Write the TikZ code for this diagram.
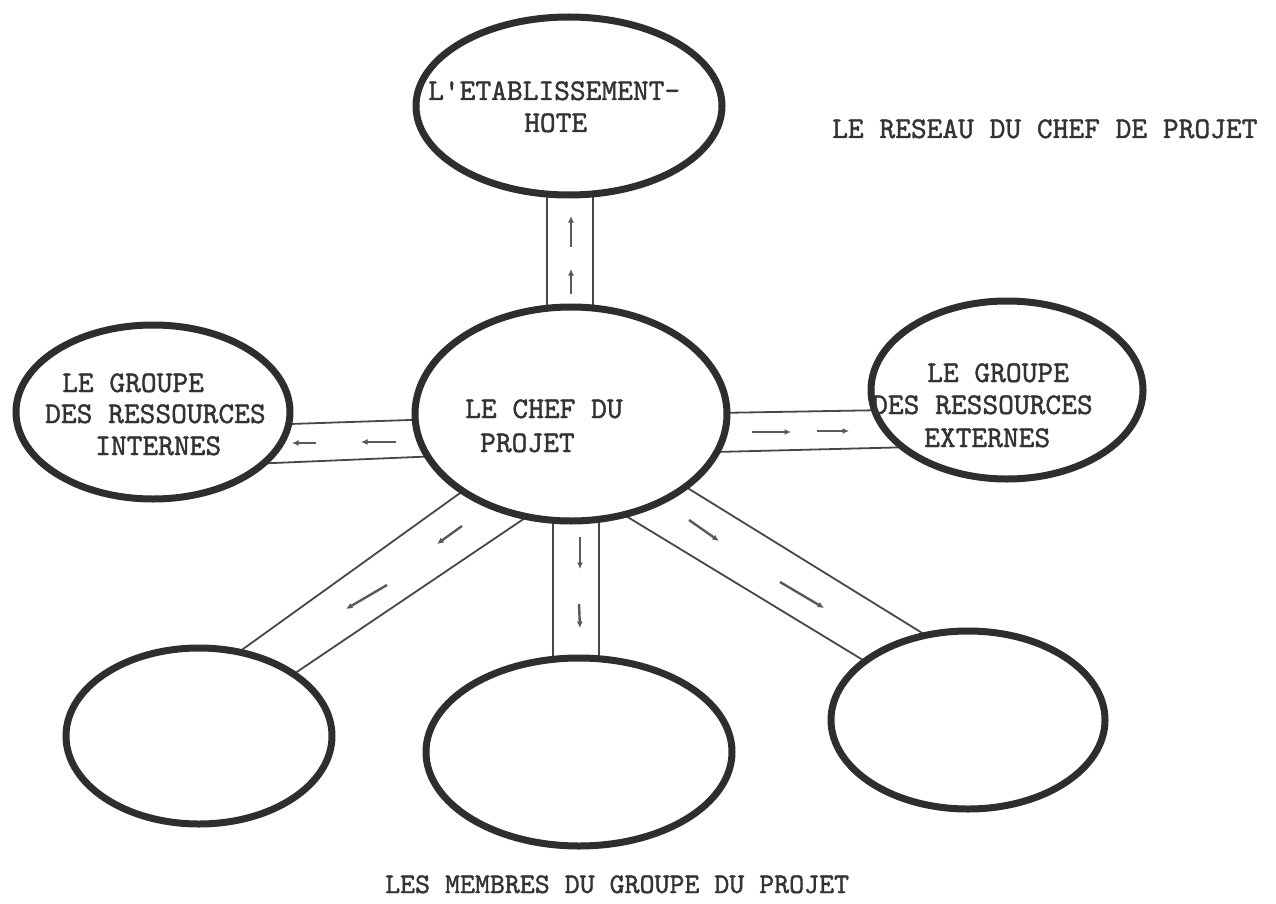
\documentclass[tikz,border=0pt]{standalone}
\usepackage{fontspec}
\newfontfamily\typewr{lmmono10-regular.otf}[FakeBold=1.3]
\usetikzlibrary{shapes.geometric,arrows.meta}
\pgfdeclarelayer{bg}
\pgfsetlayers{bg,main}
\begin{document}
\begin{tikzpicture}[x=1pt,y=-1pt,
  ell/.style={ellipse,draw=black!82,line width=7pt,fill=white,inner sep=0pt},
  road/.style={draw=black!72,line width=1.8pt},
  flow/.style={draw=black!65,line width=2.4pt,-{Latex[length=6.5pt,width=6pt]}},
  lbl/.style={font=\typewr\fontsize{30}{32}\selectfont,anchor=base west,inner sep=0pt,text=black!80}]
\useasboundingbox (0,0) rectangle (1276,904);

% ellipses
\node[ell,minimum width=306pt,minimum height=178pt] (top) at (569,106) {};
\node[ell,minimum width=312pt,minimum height=214pt] (ctr) at (571,414) {};
\node[ell,minimum width=274pt,minimum height=174pt] (lft) at (153,412) {};
\node[ell,minimum width=272pt,minimum height=178pt] (rgt) at (1007,390) {};
\node[ell,minimum width=266pt,minimum height=176pt] (bl) at (199,736) {};
\node[ell,minimum width=306pt,minimum height=188pt] (bc) at (579,752) {};
\node[ell,minimum width=274pt,minimum height=178pt] (br) at (968,720) {};

% connector ends (hidden under the ellipses)
\coordinate (t1a) at (547,180); \coordinate (t1b) at (547,320);
\coordinate (t2a) at (593,180); \coordinate (t2b) at (593,320);
\coordinate (l1a) at (260,425); \coordinate (l1b) at (440,419);
\coordinate (l2a) at (250,464); \coordinate (l2b) at (440,456);
\coordinate (r1a) at (715,413); \coordinate (r1b) at (890,410);
\coordinate (r2a) at (715,452); \coordinate (r2b) at (915,447);
\coordinate (d1a) at (474,483); \coordinate (d1b) at (225,662);
\coordinate (d2a) at (528,516); \coordinate (d2b) at (279,684);
\coordinate (v1a) at (553,505); \coordinate (v1b) at (553,680);
\coordinate (v2a) at (599,505); \coordinate (v2b) at (599,680);
\coordinate (e1a) at (673,479); \coordinate (e1b) at (940,644);
\coordinate (e2a) at (621,513); \coordinate (e2b) at (881,671);

\begin{pgfonlayer}{bg}
  \draw[road] (t1a) -- (t1b); \draw[road] (t2a) -- (t2b);
  \draw[road] (l1a) -- (l1b); \draw[road] (l2a) -- (l2b);
  \draw[road] (r1a) -- (r1b); \draw[road] (r2a) -- (r2b);
  \draw[road] (d1a) -- (d1b); \draw[road] (d2a) -- (d2b);
  \draw[road] (v1a) -- (v1b); \draw[road] (v2a) -- (v2b);
  \draw[road] (e1a) -- (e1b); \draw[road] (e2a) -- (e2b);
\end{pgfonlayer}

% flow arrows
\coordinate (a1s) at (571,247); \coordinate (a1e) at (571,216);
\coordinate (a2s) at (571,294); \coordinate (a2e) at (571,269);
\coordinate (a3s) at (316,443); \coordinate (a3e) at (292,443);
\coordinate (a4s) at (396,442); \coordinate (a4e) at (361,442);
\coordinate (a5s) at (752,432); \coordinate (a5e) at (791,432);
\coordinate (a6s) at (817,431); \coordinate (a6e) at (849,431);
\coordinate (a7s) at (462,526); \coordinate (a7e) at (437,544);
\coordinate (a8s) at (387,585); \coordinate (a8e) at (346,609);
\coordinate (a9s) at (580,537); \coordinate (a9e) at (580,569);
\coordinate (a10s) at (579,604); \coordinate (a10e) at (580,628);
\coordinate (a11s) at (689,520); \coordinate (a11e) at (719,541);
\coordinate (a12s) at (780,582); \coordinate (a12e) at (824,608);
\foreach \i in {1,...,12} \draw[flow] (a\i s) -- (a\i e);

% texts
\node[lbl] (tx1) at (428,100) {L'ETABLISSEMENT-};
\node[lbl] (tx2) at (524,132) {HOTE};
\node[lbl] (tx3) at (465,418) {LE CHEF DU};
\node[lbl] (tx4) at (480,452) {PROJET};
\node[lbl] (tx5) at (62,392) {LE GROUPE};
\node[lbl] (tx6) at (45,423) {DES RESSOURCES};
\node[lbl] (tx7) at (95,455) {INTERNES};
\node[lbl] (tx8) at (927,382) {LE GROUPE};
\node[lbl] (tx9) at (872,414) {DES RESSOURCES};
\node[lbl] (tx10) at (924,447) {EXTERNES};
\node[lbl] (tx11) at (832,138) {LE RESEAU DU CHEF DE PROJET};
\node[lbl,font=\typewr\fontsize{28.5}{32}\selectfont] (tx12) at (385,893) {LES MEMBRES DU GROUPE DU PROJET};
\end{tikzpicture}
\end{document}
